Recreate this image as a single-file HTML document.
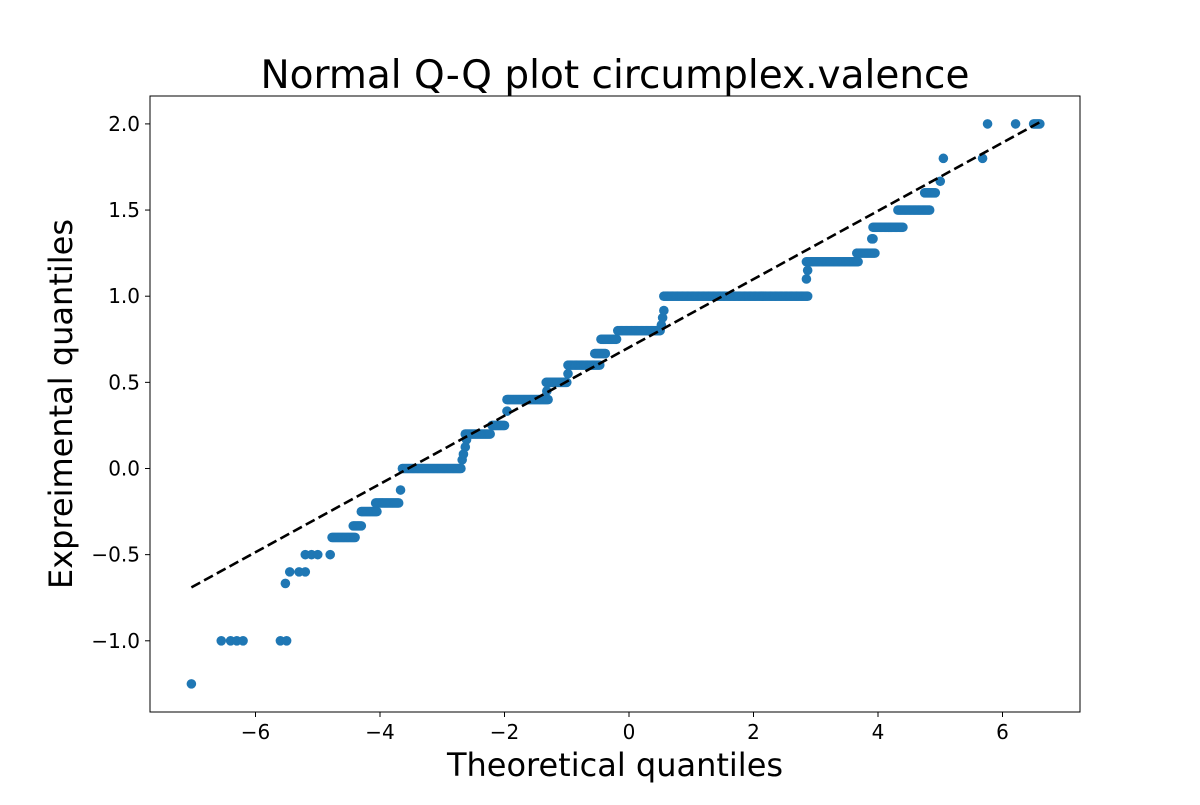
<!DOCTYPE html>
<html><head><meta charset="utf-8"><style>
body{margin:0;background:#fff}
svg text{font-family:"DejaVu Sans","Liberation Sans",sans-serif}
</style></head><body>
<svg id="chart" width="1200" height="800" xmlns="http://www.w3.org/2000/svg">
<rect width="1200" height="800" fill="#fff"/>
<text x="615" y="88" font-size="39" text-anchor="middle">Normal Q-Q plot circumplex.valence</text>
<text x="615" y="776" font-size="32" text-anchor="middle">Theoretical quantiles</text>
<text x="0" y="0" font-size="32" text-anchor="middle" transform="translate(72,404) rotate(-90)">Expreimental quantiles</text>
<g id="pts"></g>
<g id="axes"></g>
</svg>
<script>
const xTicks=[-6,-4,-2,0,2,4,6];
const yTicks=[-1.0,-0.5,0.0,0.5,1.0,1.5,2.0];
// individual points: theoretical x, sample y
const ptX=[-7.03,-6.55,-6.4,-6.3,-6.2,-5.6,-5.5,-5.52,-5.45,-5.3,-5.2,-5.2,-5.1,-5.0,-4.8,-3.67,-2.68,-2.66,-2.63,-2.61,-1.96,-1.32,-0.98,0.52,0.54,0.56,2.85,2.87,5.0,5.05,5.68,5.76,6.21];
const ptY=[-1.25,-1.0,-1.0,-1.0,-1.0,-1.0,-1.0,-0.667,-0.6,-0.6,-0.6,-0.5,-0.5,-0.5,-0.5,-0.125,0.05,0.083,0.125,0.167,0.333,0.45,0.55,0.833,0.875,0.917,1.1,1.15,1.667,1.8,1.8,2.0,2.0];
// dense runs of tied values
const runY=[-0.4,-0.333,-0.25,-0.2,0.0,0.2,0.25,0.4,0.5,0.6,0.667,0.75,0.8,1.0,1.2,1.25,1.333,1.4,1.5,1.6,2.0];
const runStart=[-4.77,-4.43,-4.3,-4.07,-3.64,-2.63,-2.2,-1.96,-1.33,-0.98,-0.55,-0.45,-0.18,0.56,2.85,3.66,3.9,3.92,4.32,4.75,6.5];
const runEnd=[-4.4,-4.3,-4.05,-3.7,-2.7,-2.23,-2.0,-1.3,-1.0,-0.47,-0.38,-0.2,0.5,2.87,3.68,3.95,3.92,4.4,4.83,4.92,6.6];
const lineX=[-7.03,6.6], lineY=[-0.69,2.01];
const L=150,R=1080,T=96,B=712;
const sx=v=>629+v*62.25, sy=v=>468.5-v*172.3;
const NS="http://www.w3.org/2000/svg";
const pts=document.getElementById('pts'), ax=document.getElementById('axes');
function dot(x,y){const c=document.createElementNS(NS,'circle');
c.setAttribute('cx',sx(x));c.setAttribute('cy',sy(y));c.setAttribute('r',4.8);c.setAttribute('fill','#1f77b4');


pts.appendChild(c);}
ptX.forEach((x,i)=>dot(x,ptY[i]));
runY.forEach((y,i)=>{const n=Math.max(1,Math.round((runEnd[i]-runStart[i])/0.02));for(let k=0;k<=n;k++)dot(runStart[i]+(runEnd[i]-runStart[i])*k/n,y);});
const ln=document.createElementNS(NS,'line');
ln.setAttribute('x1',sx(lineX[0]));ln.setAttribute('y1',sy(lineY[0]));ln.setAttribute('x2',sx(lineX[1]));ln.setAttribute('y2',sy(lineY[1]));
ln.setAttribute('stroke','#000');ln.setAttribute('stroke-width',2.6);ln.setAttribute('stroke-dasharray','10 4.5');


pts.appendChild(ln);
const fr=document.createElementNS(NS,'rect');
fr.setAttribute('x',L);fr.setAttribute('y',T);fr.setAttribute('width',R-L);fr.setAttribute('height',B-T);
fr.setAttribute('fill','none');fr.setAttribute('stroke','#000');fr.setAttribute('stroke-width',1);


ax.appendChild(fr);
const fmt=v=>(v<0?'\u2212':'')+Math.abs(v);
xTicks.forEach(v=>{const x=sx(v);
const t=document.createElementNS(NS,'line');t.setAttribute('x1',x);t.setAttribute('x2',x);t.setAttribute('y1',B);t.setAttribute('y2',B+5);t.setAttribute('stroke','#000');


ax.appendChild(t);
const s=document.createElementNS(NS,'text');s.setAttribute('x',x);s.setAttribute('y',B+27);s.setAttribute('font-size',20);s.setAttribute('text-anchor','middle');s.textContent=fmt(v);


ax.appendChild(s);});
yTicks.forEach(v=>{const y=sy(v);
const t=document.createElementNS(NS,'line');t.setAttribute('x1',L-5);t.setAttribute('x2',L);t.setAttribute('y1',y);t.setAttribute('y2',y);t.setAttribute('stroke','#000');


ax.appendChild(t);
const s=document.createElementNS(NS,'text');s.setAttribute('x',L-10);s.setAttribute('y',y+7);s.setAttribute('font-size',20);s.setAttribute('text-anchor','end');
s.textContent=(v<0?'\u2212':'')+Math.abs(v).toFixed(1);


ax.appendChild(s);});
</script>
</body></html>
